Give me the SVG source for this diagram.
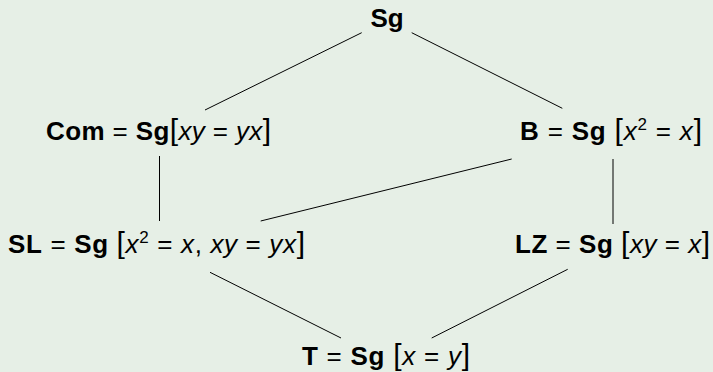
<svg xmlns="http://www.w3.org/2000/svg" width="713" height="372" viewBox="0 0 713 372">
<style>
text{font-family:"Liberation Sans","DejaVu Sans",sans-serif;font-size:26px;fill:#000}
.b{font-weight:bold}
.i{font-style:italic}
.br{font-size:30px;font-weight:normal}
.sup{font-size:17px}
line{stroke:#000;stroke-width:1}
</style>
<rect width="713" height="372" fill="#e6efe6"/>
<g id="connectors">
<line x1="361.7" y1="32.7" x2="205" y2="110"/>
<line x1="411.7" y1="32.7" x2="562.3" y2="108.3"/>
<line x1="159.5" y1="156" x2="159.5" y2="221"/>
<line x1="613" y1="159" x2="613" y2="224"/>
<line x1="511.7" y1="159" x2="260.7" y2="221"/>
<line x1="210" y1="272.3" x2="341" y2="338"/>
<line x1="567.7" y1="269.3" x2="431.7" y2="338"/>
</g>
<g id="Sg"><text x="387" y="27" text-anchor="middle" class="b">Sg</text></g>
<g id="Com"><text x="46" y="140" textLength="225"><tspan class="b">Com</tspan> = <tspan class="b">Sg</tspan><tspan class="br">[</tspan><tspan class="i">xy</tspan> = <tspan class="i">yx</tspan><tspan class="br">]</tspan></text></g>
<g id="B"><text x="520" y="140" textLength="182"><tspan class="b">B</tspan> = <tspan class="b">Sg</tspan> <tspan class="br">[</tspan><tspan class="i">x</tspan><tspan class="sup" dy="-10">2</tspan><tspan dy="10"> = </tspan><tspan class="i">x</tspan><tspan class="br">]</tspan></text></g>
<g id="SL"><text x="8" y="253" textLength="297"><tspan class="b">SL</tspan> = <tspan class="b">Sg</tspan> <tspan class="br">[</tspan><tspan class="i">x</tspan><tspan class="sup" dy="-10">2</tspan><tspan dy="10"> = </tspan><tspan class="i">x</tspan>, <tspan class="i">xy</tspan> = <tspan class="i">yx</tspan><tspan class="br">]</tspan></text></g>
<g id="LZ"><text x="515" y="253" textLength="195"><tspan class="b">LZ</tspan> = <tspan class="b">Sg</tspan> <tspan class="br">[</tspan><tspan class="i">xy</tspan> = <tspan class="i">x</tspan><tspan class="br">]</tspan></text></g>
<g id="T"><text x="302" y="365" textLength="168"><tspan class="b">T</tspan> = <tspan class="b">Sg</tspan> <tspan class="br">[</tspan><tspan class="i">x</tspan> = <tspan class="i">y</tspan><tspan class="br">]</tspan></text></g>
</svg>
